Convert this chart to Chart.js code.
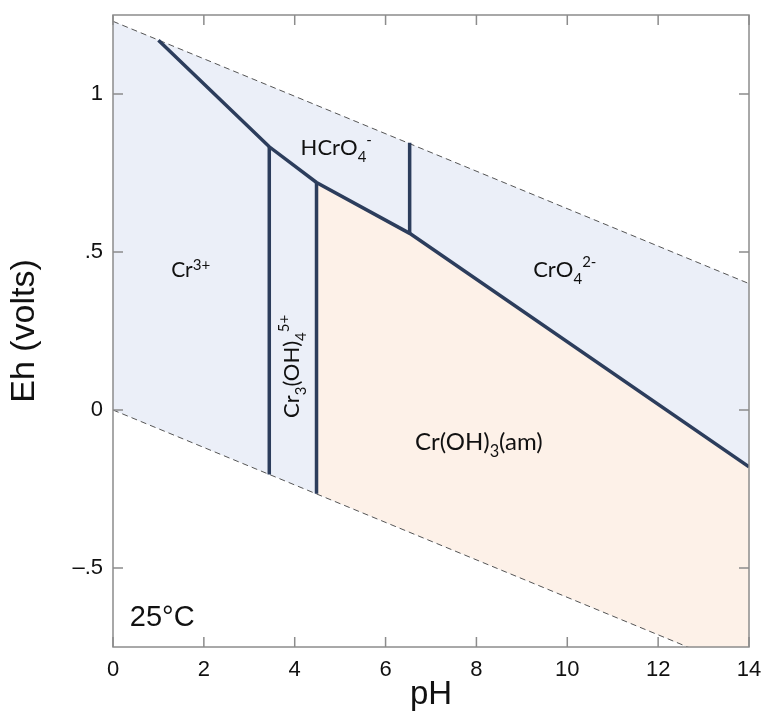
<!DOCTYPE html>
<html>
<head>
<meta charset="utf-8">
<script src="https://cdn.jsdelivr.net/npm/chart.js"></script>
<style>
  body { margin: 0; background: #fff; }
  canvas { display: block; }
</style>
</head>
<body>
<canvas id="pourbaix" width="763" height="711"></canvas>
<script>
// water stability limits (pH, Eh)
const waterPH = [0, 14];
const upperWaterEh = [1.23, 0.40];
const lowerWaterEh = [0, -0.83];

// Cr(III)/Cr(VI) boundary
const boundaryPH = [1, 3.44, 4.48, 6.53, 14];
const boundaryEh = [1.17, 0.833, 0.72, 0.559, -0.18];

// vertical boundaries
const vertPH = [3.44, 4.48, 6.53];
const vertTopEh = [0.833, 0.72, 0.846];
const vertBottomEh = [-0.204, -0.265, 0.559];

// Cr(OH)3(am) field: top edge and bottom (water line) edge
const amTopPH = [4.48, 6.53, 14];
const amTopEh = [0.72, 0.559, -0.18];
const amBasePH = [4.48, 14];
const amBaseEh = [-0.265, -0.83];

const xTicks = [0, 2, 4, 6, 8, 10, 12, 14];
const yTicks = [-0.5, 0, 0.5, 1];
const yTickLabels = ['\u2013.5', '0', '.5', '1'];

const pts = (xs, ys) => xs.map((x, i) => ({ x: x, y: ys[i] }));

const navy = '#2c3d5c';
const blueFill = '#ebeff8';
const peachFill = '#fdf1e8';

// species labels, anchored in data units
const labels = [
  { pH: 4.13, Eh: 0.807, size: 22, parts: [['HCrO'], ['4', 'sub'], ['-', 'sup']] },
  { pH: 1.28, Eh: 0.422, size: 21, parts: [['Cr'], ['3+', 'up']] },
  { pH: 9.25, Eh: 0.42, size: 22, parts: [['CrO'], ['4', 'sub'], ['2-', 'sup']] },
  { pH: 6.65, Eh: -0.125, size: 24, parts: [['Cr(OH)'], ['3', 'sub'], ['(am)']] },
  { pH: 4.1, Eh: -0.025, size: 22, rotate: true, parts: [['Cr'], ['3', 'sub'], ['(OH)'], ['4', 'sub'], ['5+', 'sup']] }
];

function drawRich(ctx, x, y, base, parts) {
  let cx = x;
  parts.forEach(p => {
    const kind = p[1];
    let size = base, dy = 0;
    if (kind === 'sub') { size = base * 0.68; dy = base * 0.3; }
    if (kind === 'sup') { size = base * 0.68; dy = -base * 0.46; }
    if (kind === 'up') { size = base * 0.72; dy = -base * 0.3; }
    ctx.font = size + 'px Lato';
    ctx.fillText(p[0], cx, y + dy);
    cx += ctx.measureText(p[0]).width;
  });
}

const decor = {
  id: 'decor',
  afterDraw(chart) {
    const ctx = chart.ctx;
    const a = chart.chartArea;
    const xs = chart.scales.x, ys = chart.scales.y;

    // frame and inward ticks
    ctx.save();
    ctx.strokeStyle = '#8c8c8c';
    ctx.lineWidth = 1.5;
    ctx.strokeRect(a.left, a.top, a.right - a.left, a.bottom - a.top);
    ctx.beginPath();
    xTicks.forEach(v => {
      const px = xs.getPixelForValue(v);
      ctx.moveTo(px, a.bottom); ctx.lineTo(px, a.bottom - 10);
      ctx.moveTo(px, a.top); ctx.lineTo(px, a.top + 10);
    });
    yTicks.forEach(v => {
      const py = ys.getPixelForValue(v);
      ctx.moveTo(a.left, py); ctx.lineTo(a.left + 10, py);
      ctx.moveTo(a.right, py); ctx.lineTo(a.right - 10, py);
    });
    ctx.stroke();

    // species names
    ctx.fillStyle = '#111';
    ctx.textBaseline = 'alphabetic';
    ctx.textAlign = 'left';
    labels.forEach(l => {
      const px = xs.getPixelForValue(l.pH);
      const py = ys.getPixelForValue(l.Eh);
      if (l.rotate) {
        ctx.save();
        ctx.translate(px, py);
        ctx.rotate(-Math.PI / 2);
        drawRich(ctx, 0, 0, l.size, l.parts);
        ctx.restore();
      } else {
        drawRich(ctx, px, py, l.size, l.parts);
      }
    });

    // temperature
    ctx.font = '29px "Liberation Sans", Arial';
    ctx.fillText('25\u00b0C', xs.getPixelForValue(0.37), ys.getPixelForValue(-0.685));
    ctx.restore();
  }
};

const noPad = s => { s.paddingLeft = 0; s.paddingRight = 0; s.paddingTop = 0; s.paddingBottom = 0; };

const lineBase = { showLine: true, pointRadius: 0, fill: false, tension: 0 };

new Chart(document.getElementById('pourbaix'), {
  type: 'scatter',
  data: {
    datasets: [
      Object.assign({}, lineBase, {
        label: 'upper water', data: pts(waterPH, upperWaterEh),
        borderColor: '#555', borderWidth: 1, borderDash: [6, 4],
        backgroundColor: blueFill, fill: 1, order: 10
      }),
      Object.assign({}, lineBase, {
        label: 'lower water', data: pts(waterPH, lowerWaterEh),
        borderColor: '#555', borderWidth: 1, borderDash: [6, 4], order: 3
      }),
      Object.assign({}, lineBase, {
        label: 'am top', data: pts(amTopPH, amTopEh),
        borderWidth: 0, borderColor: 'rgba(0,0,0,0)',
        backgroundColor: peachFill, fill: 3, order: 8
      }),
      Object.assign({}, lineBase, {
        label: 'am base', data: pts(amBasePH, amBaseEh),
        borderWidth: 0, borderColor: 'rgba(0,0,0,0)', order: 9
      }),
      Object.assign({}, lineBase, {
        label: 'boundary', data: pts(boundaryPH, boundaryEh),
        borderColor: navy, borderWidth: 3.5, order: 1
      }),
      ...vertPH.map((p, i) => Object.assign({}, lineBase, {
        label: 'vertical ' + i,
        data: [{ x: p, y: vertTopEh[i] }, { x: p, y: vertBottomEh[i] }],
        borderColor: navy, borderWidth: 3.5, order: 1
      }))
    ]
  },
  plugins: [decor],
  options: {
    responsive: false,
    animation: false,
    devicePixelRatio: 1,
    layout: { padding: { top: 15, right: 14, left: 0, bottom: 0 } },
    plugins: { legend: { display: false }, tooltip: { enabled: false } },
    scales: {
      x: {
        type: 'linear', min: 0, max: 14,
        grid: { display: false, drawTicks: false },
        border: { display: false },
        afterBuildTicks: s => { s.ticks = xTicks.map(v => ({ value: v })); },
        afterFit: s => { s.height = 64; noPad(s); },
        ticks: {
          padding: 10, color: '#111',
          font: { family: '"Liberation Sans", Arial', size: 22 },
          callback: v => String(v)
        },
        title: {
          display: true, text: 'pH', color: '#111',
          font: { family: '"Liberation Sans", Arial', size: 33, lineHeight: 1 },
          padding: { top: 2, bottom: 0 }
        }
      },
      y: {
        type: 'linear', min: -0.75, max: 1.25,
        grid: { display: false, drawTicks: false },
        border: { display: false },
        afterBuildTicks: s => { s.ticks = yTicks.map(v => ({ value: v })); },
        afterFit: s => { s.width = 113; noPad(s); },
        ticks: {
          padding: 10, color: '#111',
          font: { family: '"Liberation Sans", Arial', size: 22 },
          callback: v => yTickLabels[yTicks.indexOf(v)]
        },
        title: {
          display: true, text: 'Eh (volts)', color: '#111',
          font: { family: '"Liberation Sans", Arial', size: 34, lineHeight: 1 },
          padding: { top: 8, bottom: 0 }
        }
      }
    }
  }
});
</script>
</body>
</html>
